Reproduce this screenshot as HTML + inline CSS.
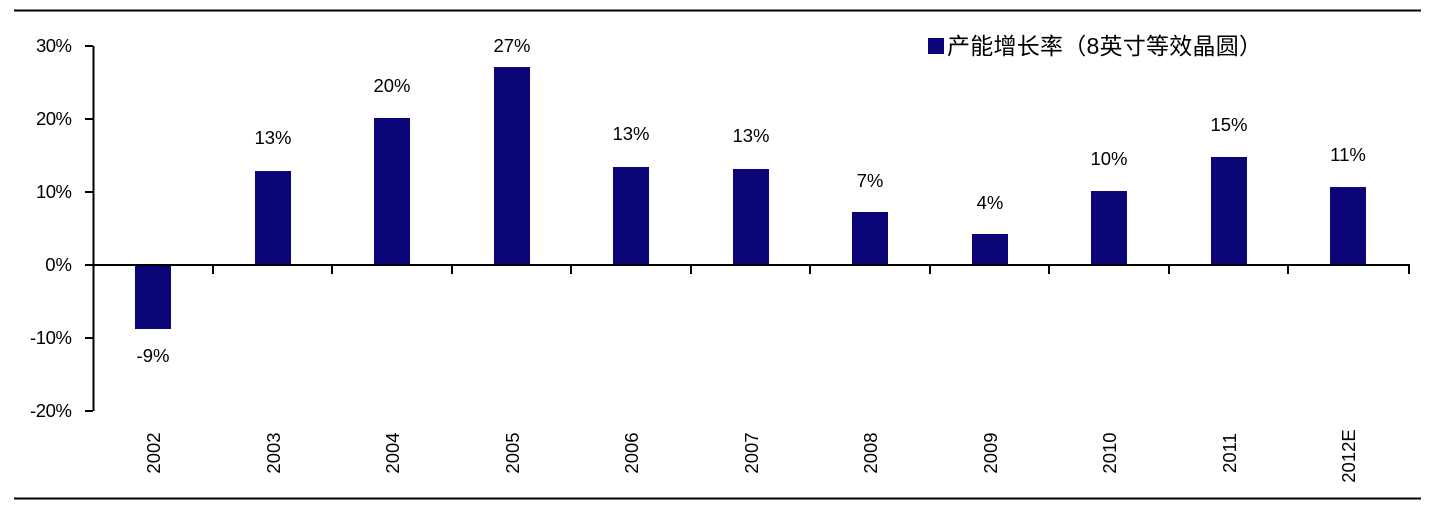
<!DOCTYPE html>
<html><head><meta charset="utf-8"><style>
html,body{margin:0;padding:0;background:#fff;}
svg text{font-family:"Liberation Sans","Noto Sans CJK SC",sans-serif;fill:#000;}
</style></head><body>
<svg width="1442" height="508" viewBox="0 0 1442 508" xmlns="http://www.w3.org/2000/svg">
<rect width="1442" height="508" fill="#fff"/>
<line x1="14" y1="10.5" x2="1421" y2="10.5" stroke="#000" stroke-width="2"/>
<line x1="14" y1="498.5" x2="1421" y2="498.5" stroke="#000" stroke-width="2"/>
<line x1="93.5" y1="46" x2="93.5" y2="411" stroke="#000" stroke-width="2"/>
<g stroke="#000" stroke-width="2">
<line x1="85" y1="46" x2="93" y2="46"/><line x1="85" y1="119" x2="93" y2="119"/>
<line x1="85" y1="192" x2="93" y2="192"/><line x1="85" y1="265" x2="93" y2="265"/>
<line x1="85" y1="338" x2="93" y2="338"/><line x1="85" y1="411" x2="93" y2="411"/>
</g>
<g font-size="18.5" text-anchor="end">
<text x="72" y="52" textLength="36">30%</text><text x="72" y="125" textLength="36">20%</text><text x="72" y="198" textLength="36">10%</text>
<text x="72" y="271">0%</text><text x="72" y="344" textLength="42">-10%</text><text x="72" y="417" textLength="42">-20%</text>
</g>
<g fill="#0c0578">
<rect x="135" y="265" width="36" height="64"/>
<rect x="255" y="171" width="36" height="94"/>
<rect x="374" y="118" width="36" height="147"/>
<rect x="494" y="67" width="36" height="198"/>
<rect x="613" y="167" width="36" height="98"/>
<rect x="733" y="169" width="36" height="96"/>
<rect x="852" y="212" width="36" height="53"/>
<rect x="972" y="234" width="36" height="31"/>
<rect x="1091" y="191" width="36" height="74"/>
<rect x="1211" y="157" width="36" height="108"/>
<rect x="1330" y="187" width="36" height="78"/>
</g>
<line x1="93" y1="265" x2="1410" y2="265" stroke="#000" stroke-width="2"/>
<g stroke="#000" stroke-width="2">
<line x1="213" y1="265" x2="213" y2="274"/><line x1="332" y1="265" x2="332" y2="274"/>
<line x1="452" y1="265" x2="452" y2="274"/><line x1="571" y1="265" x2="571" y2="274"/>
<line x1="691" y1="265" x2="691" y2="274"/><line x1="810" y1="265" x2="810" y2="274"/>
<line x1="930" y1="265" x2="930" y2="274"/><line x1="1049" y1="265" x2="1049" y2="274"/>
<line x1="1169" y1="265" x2="1169" y2="274"/><line x1="1288" y1="265" x2="1288" y2="274"/>
<line x1="1409" y1="265" x2="1409" y2="274"/>
</g>
<g font-size="18.5" text-anchor="middle">
<text x="153" y="362">-9%</text>
<text x="273" y="144">13%</text>
<text x="392" y="92">20%</text>
<text x="512" y="52">27%</text>
<text x="631" y="140">13%</text>
<text x="751" y="142">13%</text>
<text x="870" y="187">7%</text>
<text x="990" y="209">4%</text>
<text x="1109" y="165">10%</text>
<text x="1229" y="131">15%</text>
<text x="1348" y="161">11%</text>
</g>
<g font-size="18.5" text-anchor="middle">
<text transform="translate(160,453) rotate(-90)">2002</text>
<text transform="translate(280,453) rotate(-90)">2003</text>
<text transform="translate(399,453) rotate(-90)">2004</text>
<text transform="translate(519,453) rotate(-90)">2005</text>
<text transform="translate(638,453) rotate(-90)">2006</text>
<text transform="translate(758,453) rotate(-90)">2007</text>
<text transform="translate(877,453) rotate(-90)">2008</text>
<text transform="translate(997,453) rotate(-90)">2009</text>
<text transform="translate(1116,453) rotate(-90)">2010</text>
<text transform="translate(1236,453) rotate(-90)">2011</text>
<text transform="translate(1355,456) rotate(-90)">2012E</text>
</g>
<rect x="928" y="38" width="16" height="16" fill="#0c0578"/>
<text x="947" y="54" font-size="23" textLength="315">产能增长率（8英寸等效晶圆）</text>
</svg>
</body></html>
